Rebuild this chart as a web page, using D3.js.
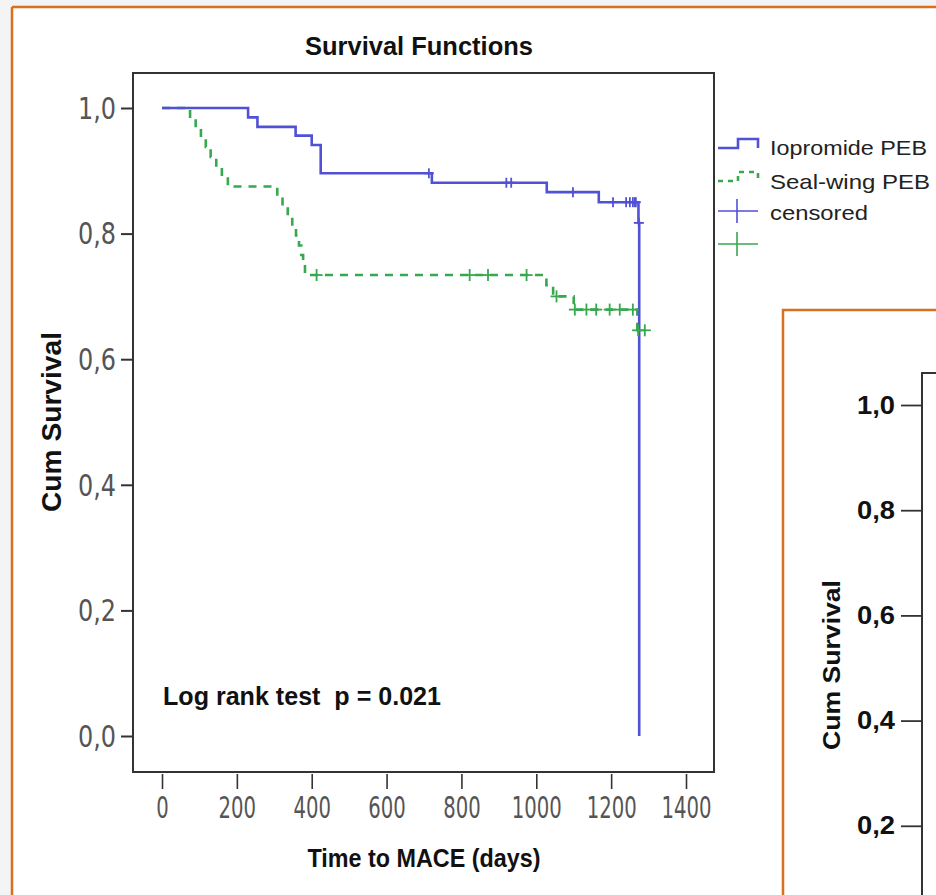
<!DOCTYPE html>
<html><head><meta charset="utf-8">
<script src="https://cdn.jsdelivr.net/npm/d3@7/dist/d3.min.js"></script>
<style>
html,body{margin:0;padding:0;background:#fff;}
svg{display:block;}
text{font-family:"Liberation Sans",Arial,sans-serif;}
.narrow{font-family:"Liberation Sans Narrow","Arial Narrow","DejaVu Sans Condensed","Liberation Sans",sans-serif;}
</style></head>
<body>
<svg id="c" width="936" height="895"></svg>
<script>
// ---- data ----
const xTicks = [0,200,400,600,800,1000,1200,1400];
const yTicks = [0,0.2,0.4,0.6,0.8,1.0];
const yTicks2 = [0.2,0.4,0.6,0.8,1.0];
const seriesNames = ["Iopromide PEB","Seal-wing PEB"];
// Iopromide PEB: event times and survival after each step
const ioTimes = [0,230,255,357,400,424,721,1028,1167,1273,1275];
const ioSurv  = [1.0,0.985,0.970,0.956,0.941,0.896,0.881,0.866,0.850,0.817,0.0];
const ioCensored = [713,920,933,1098,1205,1240,1250,1258,1263,1266,1274];
// Seal-wing PEB
const swTimes = [0,75,90,104,117,130,145,160,176,308,322,336,348,358,366,372,377,382,1027,1045,1100,1270];
const swSurv  = [1.0,0.984,0.969,0.953,0.938,0.922,0.906,0.891,0.875,0.859,0.844,0.828,0.812,0.797,0.781,0.766,0.750,0.734,0.718,0.700,0.679,0.646];
const swCensored = [413,822,871,974,1054,1103,1134,1160,1196,1223,1258,1272,1290];
const swEnd = 1290;
const ioEnd = 1275;

const blue = "#5151d6", green = "#36a84e", orange = "#d7711f";
const svg = d3.select("#c");

// background pattern outside orange frame
svg.append("rect").attr("x",0).attr("y",0).attr("width",936).attr("height",895).attr("fill","#f4f4f4");
svg.append("rect").attr("x",12).attr("y",7).attr("width",930).attr("height",900).attr("fill","#fff");
svg.append("line").attr("x1",12).attr("x2",936).attr("y1",7).attr("y2",7).attr("stroke",orange).attr("stroke-width",2.5);
svg.append("line").attr("x1",12).attr("x2",12).attr("y1",7).attr("y2",895).attr("stroke",orange).attr("stroke-width",2.5);

// scales
const x = d3.scaleLinear().domain([0,1400]).range([162,686]);
const y = d3.scaleLinear().domain([0,1]).range([736,108]);
const frame = {l:133,r:714,t:73,b:772};

// frame
svg.append("rect").attr("x",frame.l).attr("y",frame.t).attr("width",frame.r-frame.l).attr("height",frame.b-frame.t)
  .attr("fill","#fff").attr("stroke","#333").attr("stroke-width",2);

// y axis
const yAxis = svg.append("g").attr("transform",`translate(${frame.l},0)`)
  .call(d3.axisLeft(y).tickValues(yTicks).tickSize(12).tickPadding(5).tickFormat(d=>d3.format(".1f")(d).replace(".",",")));
yAxis.select(".domain").remove();
yAxis.selectAll(".tick line").attr("stroke","#333").attr("stroke-width",2);
yAxis.selectAll(".tick text").attr("class","narrow").style("font-size","30px").attr("fill","#555")
  .attr("dy","0.34em").attr("textLength",38).attr("lengthAdjust","spacingAndGlyphs");

// x axis
const xAxis = svg.append("g").attr("transform",`translate(0,${frame.b})`)
  .call(d3.axisBottom(x).tickValues(xTicks).tickSize(17).tickPadding(8).tickFormat(d3.format("d")));
xAxis.select(".domain").remove();
xAxis.selectAll(".tick line").attr("stroke","#333").attr("stroke-width",1.6).attr("y1",2);
xAxis.selectAll(".tick text").attr("class","narrow").style("font-size","30px").attr("fill","#555")
  .attr("textLength",d=>String(d).length*12.5).attr("lengthAdjust","spacingAndGlyphs");

// titles
svg.append("text").attr("x",419).attr("y",55).attr("text-anchor","middle")
  .style("font-size","25px").style("font-weight","bold").attr("fill","#111")
  .attr("textLength",228).attr("lengthAdjust","spacingAndGlyphs").text("Survival Functions");
svg.append("text").attr("x",424).attr("y",867).attr("text-anchor","middle")
  .style("font-size","25px").style("font-weight","bold").attr("fill","#111")
  .attr("textLength",233).attr("lengthAdjust","spacingAndGlyphs").text("Time to MACE (days)");
svg.append("text").attr("transform","translate(61,422) rotate(-90)").attr("text-anchor","middle")
  .style("font-size","27px").style("font-weight","bold").attr("fill","#111")
  .attr("textLength",180).attr("lengthAdjust","spacingAndGlyphs").text("Cum Survival");
svg.append("text").attr("x",163).attr("y",705).style("white-space","pre")
  .style("font-size","25px").style("font-weight","bold").attr("fill","#111")
  .attr("textLength",278).attr("lengthAdjust","spacingAndGlyphs").text("Log rank test  p = 0.021");

// step paths
function stepPoints(times, surv, end){
  const pts = times.map((t,i)=>[t,surv[i]]);
  pts.push([end, surv[surv.length-1]]);
  return pts;
}
const line = d3.line().x(d=>x(d[0])).y(d=>y(d[1])).curve(d3.curveStepAfter);
function survAt(times, surv, t){
  let s = surv[0];
  for(let i=0;i<times.length;i++){ if(times[i]<=t) s = surv[i]; }
  return s;
}

svg.append("path").datum(stepPoints(swTimes,swSurv,swEnd)).attr("d",line)
  .attr("fill","none").attr("stroke",green).attr("stroke-width",2.6).attr("stroke-dasharray","8,7");
svg.append("path").datum(stepPoints(ioTimes,ioSurv,ioEnd)).attr("d",line)
  .attr("fill","none").attr("stroke",blue).attr("stroke-width",2.6);

function crosses(times, surv, cens, color, hw, hh){
  const g = svg.append("g").attr("stroke",color).attr("stroke-width",1.8);
  cens.forEach(t=>{
    const cx = x(t), cy = y(survAt(times,surv,t));
    g.append("line").attr("x1",cx-hw).attr("x2",cx+hw).attr("y1",cy).attr("y2",cy);
    g.append("line").attr("x1",cx).attr("x2",cx).attr("y1",cy-hh).attr("y2",cy+hh);
  });
}
crosses(swTimes,swSurv,swCensored,green,6,6);
crosses(ioTimes,ioSurv,ioCensored,blue,5,5);

// legend
const lg = svg.append("g");
const lx0 = 718, lx1 = 738, lx2 = 758;
lg.append("path").attr("d",`M${lx0},148H${lx1}V139H${lx2}V148`).attr("fill","none").attr("stroke",blue).attr("stroke-width",2.6);
lg.append("path").attr("d",`M${lx0},181H${lx1}V172H${lx2}V181`).attr("fill","none").attr("stroke",green).attr("stroke-width",2.6).attr("stroke-dasharray","5,5");
lg.append("line").attr("x1",718).attr("x2",758).attr("y1",211).attr("y2",211).attr("stroke",blue).attr("stroke-width",1.6);
lg.append("line").attr("x1",737).attr("x2",737).attr("y1",199).attr("y2",223).attr("stroke",blue).attr("stroke-width",1.6);
lg.append("line").attr("x1",718).attr("x2",758).attr("y1",244).attr("y2",244).attr("stroke",green).attr("stroke-width",1.6);
lg.append("line").attr("x1",737).attr("x2",737).attr("y1",232).attr("y2",256).attr("stroke",green).attr("stroke-width",1.6);
const legTexts = [[seriesNames[0],155,157],[seriesNames[1],189,160],["censored",220,98]];
legTexts.forEach(([t,yy,w])=>{
  lg.append("text").attr("x",770).attr("y",yy).style("font-size","21px").attr("fill","#222")
    .attr("textLength",w).attr("lengthAdjust","spacingAndGlyphs").text(t);
});

// second (partially visible) panel
svg.append("rect").attr("x",783).attr("y",310).attr("width",170).attr("height",600)
  .attr("fill","#fff").attr("stroke",orange).attr("stroke-width",2.5);
const y2 = d3.scaleLinear().domain([0,1]).range([931,405]);
svg.append("path").attr("d","M922,895V373H936").attr("fill","none").attr("stroke","#333").attr("stroke-width",2);
const yAxis2 = svg.append("g").attr("transform","translate(922,0)")
  .call(d3.axisLeft(y2).tickValues(yTicks2).tickSize(21).tickPadding(6).tickFormat(d=>d3.format(".1f")(d).replace(".",",")));
yAxis2.select(".domain").remove();
yAxis2.selectAll(".tick line").attr("stroke","#333").attr("stroke-width",1.8);
yAxis2.selectAll(".tick text").style("font-size","25px").style("font-weight","bold").attr("fill","#111")
  .attr("textLength",38).attr("lengthAdjust","spacingAndGlyphs");
svg.append("text").attr("transform","translate(840,665) rotate(-90)").attr("text-anchor","middle")
  .style("font-size","24px").style("font-weight","bold").attr("fill","#111")
  .attr("textLength",170).attr("lengthAdjust","spacingAndGlyphs").text("Cum Survival");
</script>
</body></html>
